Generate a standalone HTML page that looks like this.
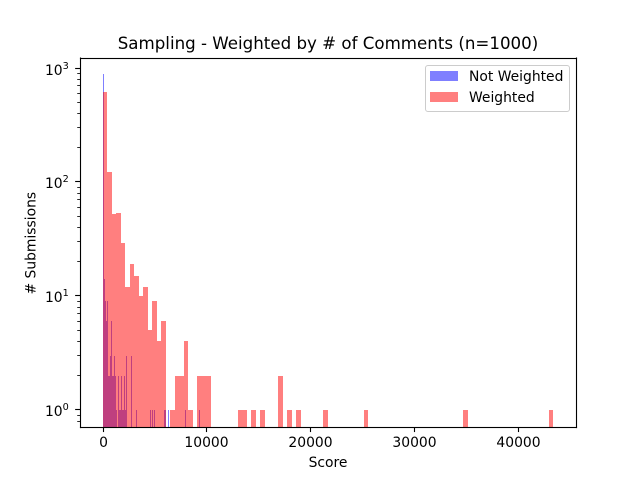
<!DOCTYPE html>
<html>
<head>
<meta charset="utf-8">
<title>Sampling - Weighted by # of Comments</title>
<style>
html,body{margin:0;padding:0;background:#fff;}
svg{display:block;}
text{font-family:"DejaVu Sans","Liberation Sans",sans-serif;fill:#000;}
</style>
</head>
<body>
<svg id="chart" xmlns="http://www.w3.org/2000/svg" width="640" height="480" viewBox="0 0 640 480">
  <defs><clipPath id="plot-clip"><rect x="80" y="57.6" width="496" height="369.6"/></clipPath></defs>
  <rect x="0" y="0" width="640" height="480" fill="#fff"/>
  <g id="bars-blue" clip-path="url(#plot-clip)"></g>
  <g id="bars-red" clip-path="url(#plot-clip)"></g>
  <g id="x-axis"></g>
  <g id="y-axis"></g>
  <rect x="79.95" y="57.5" width="1.11" height="370.6" fill="#000"/>
  <rect x="575.95" y="57.5" width="1.11" height="370.6" fill="#000"/>
  <rect x="79.95" y="57.95" width="497.1" height="1.11" fill="#000"/>
  <rect x="79.95" y="426.95" width="497.1" height="1.11" fill="#000"/>
  <text x="328" y="49" font-size="16.67" text-anchor="middle">Sampling - Weighted by # of Comments (n=1000)</text>
  <text x="328" y="467" font-size="13.89" text-anchor="middle">Score</text>
  <text transform="translate(35.5 243.2) rotate(-90)" font-size="13.89" text-anchor="middle"># Submissions</text>
  <g>
    <rect x="425.5" y="65.5" width="144" height="46" rx="2.5" ry="2.5" fill="#fff" fill-opacity="0.8" stroke="#ccc" stroke-width="1"/>
    <rect x="430" y="71" width="28" height="10" fill="#00f" fill-opacity="0.5"/>
    <text x="469" y="81" font-size="13.89">Not Weighted</text>
    <rect x="430" y="92" width="28" height="10" fill="#f00" fill-opacity="0.5"/>
    <text x="469" y="102" font-size="13.89">Weighted</text>
  </g>
</svg>
<script>
const notWeightedCounts = [890,14,9,6,9,2,2,3,6,2,2,3,2,1,0,2,1,1,0,2,1,1,2,1,3,0,0,0,0,3,0,0,0,0,1,0,0,0,0,0,0,0,0,0,0,0,0,0,1,0,1,0,1,0,0,0,0,0,0,0,0,0,0,1,1,0,0,1,0,0,0,0,0,0,0,0,0,0,0,0,0,0,0,0,1,0,0,0,0,0,0,0,0,0,0,0,0,0,0,1];
const weightedCounts = [620,122,52,53,29,12,19,15,10,12,5,9,4,6,0,1,2,2,4,1,0,2,2,2,0,0,0,0,0,0,1,1,0,1,0,1,0,0,0,2,0,1,0,1,0,0,0,0,0,1,0,0,0,0,0,0,0,0,1,0,0,0,0,0,0,0,0,0,0,0,0,0,0,0,0,0,0,0,0,0,1,0,0,0,0,0,0,0,0,0,0,0,0,0,0,0,0,0,0,1];
const notWeightedScoreRange = [27,9393];
const weightedScoreRange = [0,43409];
const xTickValues = [0,10000,20000,30000,40000];
const xTickLabels = ["0","10000","20000","30000","40000"];
const yTickExponents = [0,1,2,3];
const yMinorMultipliers = [2,3,4,5,6,7,8,9];

const NS = 'http://www.w3.org/2000/svg';
const plot = {left:80, right:576, top:57.6, bottom:427.2};
const xDomain = [-2187.3, 45606.1];
const yDomain = [0.706, 1234];

function xScale(v){
  return plot.left + (v - xDomain[0]) / (xDomain[1] - xDomain[0]) * (plot.right - plot.left);
}
function yScale(v){
  const a = Math.log10(yDomain[0]), b = Math.log10(yDomain[1]);
  return plot.bottom - (Math.log10(v) - a) / (b - a) * (plot.bottom - plot.top);
}
function make(tag, parent){
  const el = document.createElementNS(NS, tag);
  parent.appendChild(el);
  return el;
}
function drawBars(counts, range, groupId, color, prefix){
  const group = document.getElementById(groupId);
  const step = (range[1] - range[0]) / counts.length;
  counts.forEach(function(c, i){
    if (c <= 0) return;
    const x0 = Math.round(xScale(range[0] + i * step));
    const x1 = Math.max(x0 + 1, Math.round(xScale(range[0] + (i + 1) * step)));
    const top = Math.round(yScale(c));
    const r = make('rect', group);
    
    
    r.setAttribute('x', x0);
    r.setAttribute('y', top);
    r.setAttribute('width', x1 - x0);
    r.setAttribute('height', Math.round(plot.bottom) - top);
    r.setAttribute('fill', color);
    r.setAttribute('fill-opacity', '0.5');
    r.setAttribute('shape-rendering', 'crispEdges');
  });
}
drawBars(notWeightedCounts, notWeightedScoreRange, 'bars-blue', '#0000ff', 'not-weighted');
drawBars(weightedCounts, weightedScoreRange, 'bars-red', '#ff0000', 'weighted');

const xAxis = document.getElementById('x-axis');
xTickValues.forEach(function(v, i){
  const px = Math.round(xScale(v)) + 0.5;
  const t = make('line', xAxis);
  
  
  t.setAttribute('x1', px);
  t.setAttribute('x2', px);
  t.setAttribute('y1', plot.bottom);
  t.setAttribute('y2', plot.bottom + 4.86);
  t.setAttribute('stroke', '#000');
  t.setAttribute('stroke-width', '1.11');
  const l = make('text', xAxis);
  
  
  l.setAttribute('x', px);
  l.setAttribute('y', 447);
  l.setAttribute('font-size', '13.89');
  l.setAttribute('text-anchor', 'middle');
  l.textContent = xTickLabels[i];
});

const yAxis = document.getElementById('y-axis');
function yTick(py, len, width, name){
  const t = make('line', yAxis);
  
  
  t.setAttribute('x1', plot.left);
  t.setAttribute('x2', plot.left - len);
  t.setAttribute('y1', py);
  t.setAttribute('y2', py);
  t.setAttribute('stroke', '#000');
  t.setAttribute('stroke-width', width);
}
yTickExponents.forEach(function(e){
  const v = Math.pow(10, e);
  const py = Math.round(yScale(v) - 0.5) + 0.5;
  yTick(py, 4.86, 1.11, 'y-major-tick');
  const l = make('text', yAxis);
  
  
  l.setAttribute('x', 68.8);
  l.setAttribute('y', py + 6.5);
  l.setAttribute('font-size', '13.89');
  l.setAttribute('text-anchor', 'end');
  const base = make('tspan', l);
  base.textContent = '10';
  const sup = make('tspan', l);
  sup.setAttribute('font-size', '9.7');
  sup.setAttribute('dy', '-5.8');
  sup.textContent = String(e);
});
[-1].concat(yTickExponents).forEach(function(e){
  yMinorMultipliers.forEach(function(m){
    const v = m * Math.pow(10, e);
    if (v < yDomain[0] || v > yDomain[1]) return;
    yTick(Math.round(yScale(v) - 0.5) + 0.5, 2.78, 0.83, 'y-minor-tick');
  });
});
</script>
</body>
</html>
